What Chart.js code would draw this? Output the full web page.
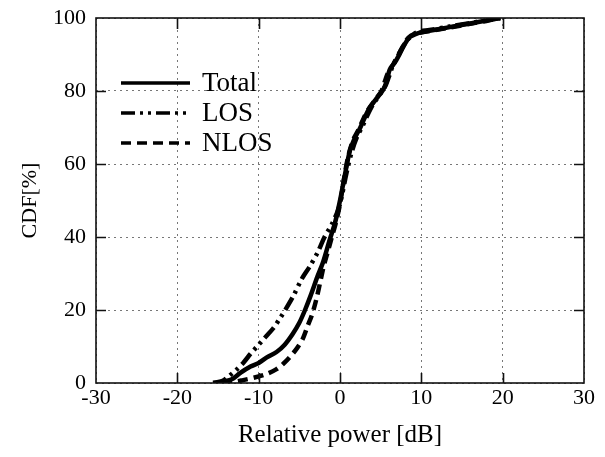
<!DOCTYPE html>
<html>
<head>
<meta charset="UTF-8">
<script src="https://cdn.jsdelivr.net/npm/chart.js"></script>
<style>
body{margin:0;background:#fff;}
</style>
</head>
<body>
<canvas id="chart" width="605" height="457"></canvas>
<script>
// axis ticks
const xTicks = [-30, -20, -10, 0, 10, 20, 30];
const yTicks = [0, 20, 40, 60, 80, 100];

// Total (solid)
const totalX = [-15.6, -14.5, -13.3, -12.3, -11, -10, -9, -7.8, -6.8, -5.8, -5, -4.3, -3.6, -2.8, -2.1, -1.3, -0.6, 0,
  0.6, 1.2, 1.8, 2.5, 3.1, 3.7, 4.5, 5.3, 5.8, 6.1, 6.8, 7.4, 8.0, 8.6, 9.2, 9.8, 11, 13.5, 16, 18, 19.7];
const totalY = [0, 0.3, 1, 2.7, 4.5, 5.5, 7, 8.5, 10.5, 13.5, 16.5, 20, 24, 29, 33, 39, 44, 50,
  57, 63.5, 67, 70, 73, 75.6, 78, 80.3, 83, 85.8, 88, 90.4, 93, 94.8, 95.5, 96, 96.5, 97.5, 98.5, 99.3, 100];

// LOS (dash-dot)
const losX = [-15.6, -14.5, -13.6, -12.8, -11.9, -11, -10.2, -9.2, -8.2, -7.3, -6.6, -5.7, -4.7, -3.7, -2.7, -1.9, -1, -0.3, 0.1,
  0.8, 1.4, 2.1, 2.8, 3.4, 4.1, 4.9, 5.6, 6.1, 6.5, 7.1, 7.7, 8.3, 8.9, 9.6, 11, 13.5, 16, 18, 19.7];
const losY = [0, 0.5, 2, 3.5, 5.5, 8, 10, 12.5, 15, 18, 20.5, 24, 28.5, 32, 36, 40, 43.5, 47, 50,
  57.5, 63, 67.5, 70.5, 73.5, 76.5, 79, 81.5, 84.5, 87, 89.5, 92, 94, 95.3, 96.2, 96.7, 97.7, 98.6, 99.4, 100];

// NLOS (dashed)
const nlosX = [-14.5, -13, -11.9, -10.5, -9, -7.8, -7, -6.2, -5.3, -4.6, -4, -3.4, -2.9, -2.4, -2, -1.5, -1, -0.5, 0,
  0.5, 1.0, 1.6, 2.3, 2.9, 3.5, 4.3, 5.1, 5.5, 5.9, 6.6, 7.2, 7.8, 8.4, 9.1, 11, 13.5, 16, 18, 19.7];
const nlosY = [0, 0.3, 0.8, 1.5, 2.5, 3.8, 5.2, 7, 9.5, 12, 15.5, 19, 23, 28, 32, 36, 40, 44, 49,
  56, 62, 66.5, 69.5, 72.5, 75, 77.5, 80, 82.5, 85, 87.5, 90, 92.5, 94.6, 95.6, 96.4, 97.4, 98.4, 99.2, 100];

const seriesNames = ['Total', 'LOS', 'NLOS'];

function pts(xs, ys) {
  return xs.map((x, i) => ({ x: x, y: ys[i] }));
}

const serif = 'Liberation Serif';

// frame and inward tick marks on all four sides
const framePlugin = {
  id: 'frame',
  afterDraw(chart) {
    const c = chart.ctx, a = chart.chartArea;
    const sx = chart.scales.x, sy = chart.scales.y;
    c.save();
    c.strokeStyle = '#111';
    c.lineWidth = 1.6;
    c.strokeRect(a.left, a.top, a.right - a.left, a.bottom - a.top);
    c.beginPath();
    xTicks.slice(1, -1).forEach(v => {
      const px = Math.round(sx.getPixelForValue(v)) + 0.5;
      c.moveTo(px, a.bottom); c.lineTo(px, a.bottom - 10);
      c.moveTo(px, a.top); c.lineTo(px, a.top + 11);
    });
    yTicks.slice(1, -1).forEach(v => {
      const py = Math.round(sy.getPixelForValue(v)) + 0.5;
      c.moveTo(a.left, py); c.lineTo(a.left + 10, py);
      c.moveTo(a.right, py); c.lineTo(a.right - 10, py);
    });
    c.stroke();
    c.restore();
  }
};

// legend drawn inside plot, top-left
const legendPlugin = {
  id: 'inlegend',
  afterDatasetsDraw(chart) {
    const c = chart.ctx, a = chart.chartArea;
    c.save();
    chart.data.datasets.forEach((ds, i) => {
      const y = a.top + 65 + i * 30;
      c.strokeStyle = '#000';
      c.lineWidth = 3.5;
      c.setLineDash(ds.borderDash || []);
      c.beginPath();
      c.moveTo(a.left + 25, y);
      c.lineTo(a.left + 94, y);
      c.stroke();
      c.setLineDash([]);
      c.fillStyle = '#000';
      c.font = '27px "' + serif + '"';
      c.textBaseline = 'middle';
      c.fillText(ds.label, a.left + 106, y + 1);
    });
    c.restore();
  }
};

new Chart(document.getElementById('chart'), {
  type: 'line',
  data: {
    datasets: [
      { label: seriesNames[0], data: pts(totalX, totalY), borderColor: '#000', borderWidth: 4.5, pointRadius: 0, tension: 0.3, fill: false },
      { label: seriesNames[1], data: pts(losX, losY), borderColor: '#000', borderWidth: 4.5, borderDash: [14, 5, 3, 5, 3, 5], pointRadius: 0, tension: 0.3, fill: false },
      { label: seriesNames[2], data: pts(nlosX, nlosY), borderColor: '#000', borderWidth: 4.5, borderDash: [10, 6], pointRadius: 0, tension: 0.3, fill: false }
    ]
  },
  options: {
    responsive: false,
    animation: false,
    layout: { padding: { top: 18, right: 21, left: 0, bottom: 0 } },
    plugins: { legend: { display: false }, tooltip: { enabled: false } },
    scales: {
      x: {
        type: 'linear', min: -30, max: 30,
        afterBuildTicks: s => { s.ticks = xTicks.map(v => ({ value: v })); },
        afterFit: s => { s.height = 74; },
        ticks: { color: '#000', font: { family: serif, size: 22 }, padding: 2, maxRotation: 0 },
        grid: { color: '#777', lineWidth: 1, drawTicks: false },
        border: { display: false, dash: [2, 4] },
        title: { display: true, text: 'Relative power [dB]', color: '#000', font: { family: serif, size: 25 }, padding: { top: 0, bottom: 7 } }
      },
      y: {
        min: 0, max: 100,
        afterBuildTicks: s => { s.ticks = yTicks.map(v => ({ value: v })); },
        afterFit: s => { s.width = 96; s.paddingTop = 0; s.paddingBottom = 0; },
        ticks: { color: '#000', font: { family: serif, size: 22 }, padding: 10 },
        grid: { color: '#777', lineWidth: 1, drawTicks: false },
        border: { display: false, dash: [2, 4] },
        title: { display: true, text: 'CDF[%]', color: '#000', font: { family: serif, size: 22 }, padding: { top: 17, bottom: 0 } }
      }
    }
  },
  plugins: [framePlugin, legendPlugin]
});
</script>
</body>
</html>
